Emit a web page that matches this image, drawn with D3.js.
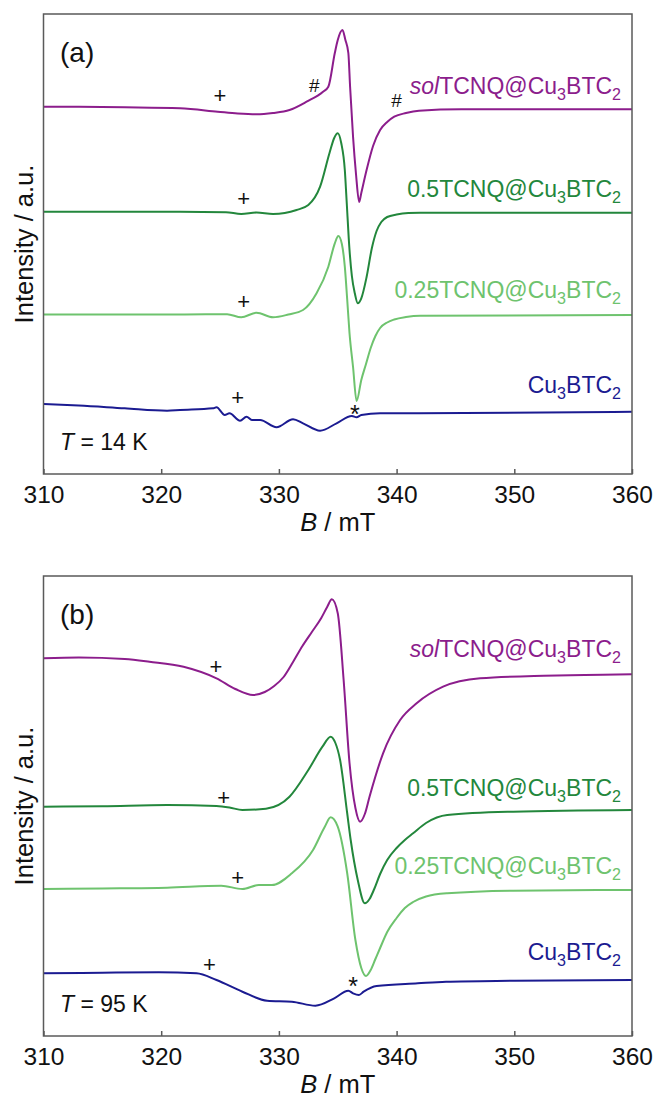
<!DOCTYPE html>
<html>
<head>
<meta charset="utf-8">
<script src="https://cdn.jsdelivr.net/npm/d3@7"></script>
<style>
  body { margin: 0; background: #fff; }
  svg { display: block; font-family: "Liberation Sans", Arial, sans-serif; }
</style>
</head>
<body>
<div class="box"></div>
<script>
// x axis (magnetic field, mT)
const fieldTicks = [310, 320, 330, 340, 350, 360];
// sample prefixes, top to bottom ("" = bare framework)
const samplePrefixes = ["sol", "0.5", "0.25", ""];
const sampleColors = ["#8c1d8c", "#23873c", "#6ec36e", "#1b1b91"];
const panelLetters = ["(a)", "(b)"];
const temperatures = ["14 K", "95 K"];

// panel (a), T = 14 K   [B / mT, intensity / a.u.]
const solA = [[310, 367.3], [313, 367.2], [316.9, 366.7], [321.6, 365.7], [324.8, 362.3], [326.5, 360.5],
  [328.1, 359.7], [329.5, 361], [330.9, 364], [332.35, 372.3], [333.75, 382.3], [334.2, 387.3],
  [334.75, 421], [335.0, 434], [335.4, 444], [335.65, 434], [335.9, 421], [336.05, 387], [336.3, 337.3],
  [336.55, 300], [336.82, 272], [337.0, 281], [337.45, 304], [338.0, 328], [338.6, 344], [339.2, 352],
  [339.8, 357.3], [340.8, 361], [341.9, 363.3], [345.5, 364.7], [360, 364.7]];
const halfA = [[310, 262.3], [321.6, 262.3], [325.5, 261.8], [326.8, 260], [328.1, 261.5], [329.5, 260],
  [331.5, 264], [332.5, 269], [333.5, 287.3], [334.3, 321], [334.7, 336], [335.0, 340.7], [335.3, 330.7],
  [335.6, 304], [335.75, 274], [336.0, 224], [336.2, 198], [336.45, 180.7], [336.7, 170.7], [337.0, 175.7],
  [337.45, 197], [337.9, 226], [338.3, 243], [338.7, 252], [339.2, 257], [340.0, 259.5], [341.0, 261],
  [342.0, 261.3], [360, 261.3]];
const quarterA = [[310, 159.5], [322, 159.5], [325.6, 159.8], [326.8, 156.7], [328.1, 161.3], [329.5, 156.7],
  [330.8, 159.5], [332.05, 164], [333.2, 180.7], [334.2, 207.3], [334.75, 230.7], [335.05, 238],
  [335.35, 230], [335.6, 207.3], [335.8, 175], [336.0, 140.7], [336.3, 107], [336.6, 73], [337.0, 94],
  [337.4, 110], [337.8, 126], [338.2, 138], [338.6, 146], [339.2, 151.5], [339.8, 154.5], [340.8, 157],
  [342.0, 158.3], [360, 159]];
const bareA = [[310, 70], [313, 68.5], [316.9, 65.7], [320.5, 63.3], [321.6, 64], [324.4, 65.7], [324.7, 66.7],
  [325.4, 59], [325.8, 60.7], [326.7, 53.3], [327.25, 57.3], [327.7, 54], [328.4, 54], [329.8, 46.7],
  [331.2, 54.7], [332.05, 50.7], [333.5, 43.3], [334.9, 50.7], [336.2, 58], [336.6, 56.7], [337.0, 59],
  [338.6, 60.7], [341.9, 60.7], [360, 62.3]];

// panel (b), T = 95 K
const solB = [[310, 377.7], [313, 378.5], [316.9, 377], [319.0, 374.3], [321.9, 369.3], [324.7, 357.7],
  [326.3, 347], [327.8, 341], [328.8, 344], [329.6, 350], [330.4, 359], [331.2, 374], [332.0, 390],
  [332.8, 404], [333.6, 418], [334.1, 429], [334.5, 436.7], [335.0, 422.7], [335.5, 356], [336.0, 273],
  [336.5, 228], [336.9, 214.3], [337.3, 222], [337.7, 239.3], [338.85, 282.7], [340.3, 316], [341.7, 332.7],
  [343.95, 349.3], [347.1, 357.7], [352.5, 360.3], [356, 361], [360, 361.7]];
const halfB = [[310, 229.3], [315, 229.8], [320.5, 231], [324.7, 230], [325.8, 228.5], [326.9, 226],
  [328.9, 227.3], [330.9, 239.3], [332.5, 266], [333.7, 289.3], [334.4, 299.3], [334.8, 293], [335.2, 276],
  [335.8, 223], [336.1, 196], [336.7, 156], [337.3, 132.7], [337.7, 137], [338.1, 147], [338.6, 162],
  [339.2, 176], [340.0, 188], [340.7, 196], [341.4, 202.7], [342.5, 213], [344.3, 221], [349.9, 224.3],
  [360, 226]];
const quarterB = [[310, 147], [315, 147.5], [320.5, 148.3], [325.1, 150.3], [326.9, 147], [328.3, 151],
  [329.4, 151], [331.1, 162.7], [332.9, 186], [333.9, 209.3], [334.4, 218.7], [335.0, 209.3], [335.8, 163],
  [336.5, 96], [337.0, 68], [337.4, 60], [337.8, 66], [338.2, 77], [338.6, 88], [339.2, 104], [340.0, 118],
  [340.7, 128], [341.4, 134], [342.5, 139.5], [344.3, 142.7], [349.9, 145.3], [360, 146]];
const bareB = [[310, 62.7], [315, 63.3], [319.8, 63.7], [323.0, 62.7], [324.7, 56], [326.9, 44.3],
  [329.0, 35.3], [331.1, 34.3], [333.1, 30.3], [334.7, 37.7], [335.9, 45.3], [336.3, 42.7], [336.8, 41],
  [337.2, 44.3], [338.3, 50], [341.8, 52.7], [344.2, 54.3], [350, 55.2], [360, 56]];

// label baselines (a.u.) next to each trace
const labelLevelsA = [380, 277.3, 175.7, 80.7];
const labelLevelsB = [379.3, 240, 162, 76];

// impurity markers [B, intensity, symbol]
const marksA = [[325.0, 379, "+"], [333.0, 389, "#"], [340.0, 374, "#"], [327.0, 275.7, "+"],
  [327.0, 173.3, "+"], [326.5, 77.3, "+"], [336.45, 65.7, "*"]];
const marksB = [[324.65, 370, "+"], [325.3, 238.7, "+"], [326.5, 159.3, "+"], [324.1, 72, "+"],
  [336.3, 56, "*"]];

const width = 655, height = 1097;
const left = 43.5, right = 632;
const panelTops = [14, 576];
const panelHeight = 460;

const svg = d3.create("svg").attr("width", width).attr("height", height);

const x = d3.scaleLinear().domain([310, 360]).range([left, right]);

const panels = [
  { curves: [solA, halfA, quarterA, bareA], labels: labelLevelsA, marks: marksA },
  { curves: [solB, halfB, quarterB, bareB], labels: labelLevelsB, marks: marksB }
];

const symbolSize = { "+": 22, "#": 19, "*": 25 };
const symbolShift = { "+": "0.36em", "#": "0.36em", "*": "0.6em" };

panels.forEach(function (p, k) {
  const top = panelTops[k], bottom = top + panelHeight;
  const y = d3.scaleLinear().domain([0, panelHeight]).range([bottom, top]);
  const g = svg.append("g");

  // traces
  const line = d3.line()
    .x(d => x(d[0]))
    .y(d => y(d[1]))
    .curve(d3.curveMonotoneX);

  g.append("g")
    .attr("fill", "none")
    .attr("stroke-width", 2)
    .attr("stroke-linejoin", "round")
    .selectAll("path")
    .data(p.curves)
    .join("path")
    .attr("stroke", (d, i) => sampleColors[i])
    .attr("d", line);

  // frame
  g.append("rect")
    .attr("x", left).attr("y", top)
    .attr("width", right - left).attr("height", panelHeight)
    .attr("fill", "none")
    .attr("stroke", "#5a5a5a")
    .attr("stroke-width", 1.5);

  // bottom axis, ticks pointing in
  const axis = g.append("g")
    .attr("transform", `translate(0,${bottom})`)
    .call(d3.axisBottom(x).tickValues(fieldTicks).tickSizeInner(-5).tickSizeOuter(0).tickPadding(12));
  axis.select(".domain").remove();
  axis.selectAll(".tick line").attr("stroke", "#5a5a5a").attr("stroke-width", 1.5);
  axis.selectAll(".tick text")
    .attr("font-size", 24.5)
    .attr("font-family", "Liberation Sans, Arial, sans-serif")
    .attr("fill", "#111");

  // axis titles
  const xt = g.append("text")
    .attr("x", (left + right) / 2)
    .attr("y", bottom + 57)
    .attr("text-anchor", "middle")
    .attr("font-size", 25.5)
    .attr("fill", "#111");
  xt.append("tspan").attr("font-style", "italic").text("B");
  xt.append("tspan").text(" / mT");

  g.append("text")
    .attr("transform", `translate(33,${top + panelHeight / 2}) rotate(-90)`)
    .attr("text-anchor", "middle")
    .attr("font-size", 25.5)
    .attr("fill", "#111")
    .text("Intensity / a.u.");

  // panel letter and temperature
  g.append("text")
    .attr("x", 60).attr("y", top + 48)
    .attr("font-size", 28)
    .attr("fill", "#111")
    .text(panelLetters[k]);

  const tt = g.append("text")
    .attr("x", 60).attr("y", bottom - 24)
    .attr("font-size", 23)
    .attr("fill", "#111");
  tt.append("tspan").attr("font-style", "italic").text("T");
  tt.append("tspan").text(" = " + temperatures[k]);

  // sample labels
  samplePrefixes.forEach(function (prefix, i) {
    const t = g.append("text")
      .attr("x", right - 11)
      .attr("y", y(p.labels[i]))
      .attr("text-anchor", "end")
      .attr("font-size", 23)
      .attr("fill", sampleColors[i]);
    if (prefix === "sol") {
      t.append("tspan").attr("font-style", "italic").text("sol");
    } else if (prefix) {
      t.append("tspan").text(prefix);
    }
    if (prefix) t.append("tspan").text("TCNQ@");
    t.append("tspan").text("Cu");
    t.append("tspan").attr("font-size", "70%").attr("dy", 6).text("3");
    t.append("tspan").attr("dy", -6).text("BTC");
    t.append("tspan").attr("font-size", "70%").attr("dy", 6).text("2");
  });

  // +, #, * markers
  g.append("g")
    .selectAll("text")
    .data(p.marks)
    .join("text")
    .attr("x", d => x(d[0]))
    .attr("y", d => y(d[1]))
    .attr("dy", d => symbolShift[d[2]])
    .attr("text-anchor", "middle")
    .attr("font-size", d => symbolSize[d[2]])
    .attr("fill", "#111")
    .text(d => d[2]);
});

document.querySelector(".box").appendChild(svg.node());
</script>
</body>
</html>
